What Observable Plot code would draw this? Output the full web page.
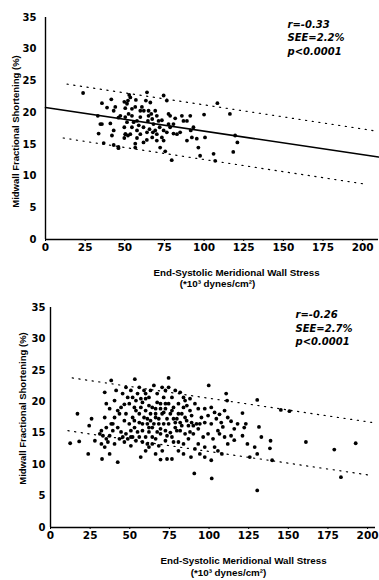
<!DOCTYPE html>
<html><head><meta charset="utf-8">
<script src="https://cdn.jsdelivr.net/npm/d3@7"></script>
<script src="https://cdn.jsdelivr.net/npm/@observablehq/plot@0.6"></script>
<style>
body{margin:0;background:#fff;}
#chart svg{display:block;}
</style></head><body><div id="chart"></div>
<script>
// ---- data ----
const xTicks = [0,25,50,75,100,125,150,175,200];
const yTicks = [0,5,10,15,20,25,30,35];
const xTitle = "End-Systolic Meridional Wall Stress";
const xUnits = "(*10³ dynes/cm²)";
const yTitle = "Midwall Fractional Shortening (%)";

const topStats = ["r=-0.33","SEE=2.2%","p<0.0001"];
const bottomStats = ["r=-0.26","SEE=2.7%","p<0.0001"];

// top panel: [stress, shortening]
const topPoints = [
[23.7,23.1],[35.6,21.5],[41.5,22.1],[38.8,20.8],[44,20.9],[43,20.3],[33,19.5],[34.6,18.2],[40.9,18.3],[33.5,16.7],
[43,17.2],[41.9,16.4],[35.6,18.2],[46,19.2],[47.2,19.5],[50.3,20.7],[51.4,21.4],[52,21.9],[53.5,22.4],[52.8,22.8],
[49.7,21.7],[57,22],[56.6,20.9],[50.3,19.3],[52.4,19.8],[51.4,18.5],[49.7,17.7],[50.5,16.6],[52,16.4],[53.5,16.6],
[49.7,16],[54.5,17.7],[55.6,18.5],[57.7,18.7],[58.8,18],[57.7,17.2],[59.8,19.3],[62,20.3],[60.8,20.9],[63.3,21.9],
[64,23.2],[66.1,21.6],[66.7,19.8],[65,19.5],[64.6,18.7],[67.3,19],[68.1,18.2],[65.6,17.4],[69.2,17.2],[70.2,16.6],
[67.3,16.1],[63.9,15.7],[61.8,15.3],[57.7,16],[56.6,15.1],[56.6,14.5],[46,14.6],[43,14.9],[46,14.4],[36.7,15.2],
[73.4,16.1],[74.5,17.2],[72,17.7],[71.3,18.7],[73.4,18.8],[74.5,22.7],[76.5,21.9],[77.6,19.8],[78.6,19.5],[77.6,18.2],
[78.6,17.7],[80.7,18.2],[80.7,16.7],[82.9,16.6],[84.9,16.9],[86,19.5],[87,18.7],[89.2,18.7],[91.3,19.5],[91.6,17.2],
[93.3,17.7],[89.2,15.6],[92.3,16.1],[95.4,15.9],[96.4,14.5],[97.5,13.2],[100.6,16.1],[100,19.7],[106,13.5],[107,12.4],
[108.4,21.5],[116.3,19.8],[118.4,13.8],[121,15.3],[119.6,16.4],[75.5,13.9],[79.6,12.5],[74.5,15.6],[70.2,15.6],[72.3,14.5],
[50.3,16.6],[54.5,20.6],[54.5,19.5],[59.8,20.3],[69.2,20.3],[61.8,17.7],[64,16.9],[59.8,16.6],[67.7,16.9],[65,20.3],
[70.2,19.5],[76.5,16.9],[81.8,19.1]
];
const topFitX = [0, 210];
const topFitY = [20.8, 13.0];
const topUpperX = [13.6, 208.6];
const topUpperY = [24.5, 17.1];
const topLowerX = [11.1, 202.3];
const topLowerY = [16.0, 8.7];

// bottom panel: [stress, shortening]
const bottomPoints = [
[12.4,13.4],[17,18.1],[18.1,13.7],[23.8,11.7],[24.4,16.2],[25.9,17.3],[32.5,10.9],[42.4,10.4],[38.3,23.4],[53.2,23.6],
[74.5,23.8],[99.8,22.6],[90.7,8.6],[101.7,7.8],[130.4,20.3],[130.4,5.9],[131.5,16],[133,14.4],[138.8,13.8],[138.4,12.6],
[139.8,10.7],[145.3,18.7],[150.7,18.5],[161.1,13.6],[179,12.4],[183.2,8],[192.5,13.4],[130.4,11.7],[128.8,12.8],[125.7,11.2],
[124.2,13.3],[121.1,14.6],[122.2,15.9],[123.2,16.5],[121.1,18.2],[118,16.5],[115.9,15.7],[113.9,14.6],[110.8,21.3],[111.4,20.2],
[109.8,18.6],[111.8,17.5],[107.7,16.7],[108.7,16],[106.6,14.9],[105.6,12.2],[108.1,11.7],[103.5,12.8],[101.4,10.7],[97.3,11.2],
[94.2,11.7],[91.1,12.5],[88.6,11.2],[83.9,11.7],[80.7,12.2],[76.6,10.9],[73.5,10.9],[69.4,10.8],[66.3,11.7],[70.5,12.2],
[60,12.2],[56.9,11.2],[50.7,13],[46.6,13.6],[43.5,14.1],[40.4,13.3],[37.3,11.7],[34.2,12.8],[35.2,14.1],[33.1,14.6],
[32.1,15.4],[35.2,15.9],[39.3,15.4],[39.3,16.5],[42.4,15.9],[34.2,17.5],[40.4,17.5],[35.2,19.7],[37.3,18.9],[34.2,21.5],
[40.4,20.2],[41.4,21.8],[45.5,21.3],[47.6,22.3],[50.7,21.8],[44.5,19.1],[47.6,18.1],[43.5,18.1],[46.6,17],[49.7,19.7],
[51.8,20.7],[53.9,20.2],[56,22.3],[59,21.8],[60,20.5],[62.1,19.4],[65.2,22.6],[67.3,21.3],[70.4,22.3],[72.5,21.8],
[71.4,20.7],[69.4,19.7],[66.3,18.9],[63.1,18.1],[60,18.6],[57,19.1],[53.9,18.6],[51.8,17.5],[49.7,16.5],[53,15.9],
[56,16.7],[58,15.4],[56,14.4],[53.9,13.8],[60,14.4],[62.1,15.2],[64.2,15.9],[63.1,17],[66.3,17.5],[68.3,16.5],
[70.4,18.1],[72.5,18.9],[74.5,19.7],[76.6,20.7],[78.7,21.8],[81.8,21.5],[84.9,20.2],[88,20.5],[83.9,19.1],[80.7,18.1],
[77.6,17.3],[74.5,16.5],[72.5,15.4],[69.4,14.9],[66.3,14.1],[64.2,13.3],[68.3,13],[72.5,13.8],[76.6,14.4],[79.7,15.4],
[82.8,16.2],[85.9,17],[89,17.8],[93.2,18.9],[95.2,17.5],[97.3,16.7],[99.4,17.8],[101.4,16.5],[104.6,17.3],[93.2,15.7],
[90.1,14.9],[87,14.1],[83.9,13.3],[80.7,13.6],[96.3,14.4],[99.4,14.9],[102.5,14.1],[105.6,15.4],[93.2,13.3],[97.3,12.8],
[91.1,19.7],[88,18.6],[84.9,17.5],[81.8,16.7],[78.7,15.9],[75.6,15.1],[73.5,17.3],[71.4,16.5],[69.4,15.7],[67.3,15.2],
[64.2,14.4],[61.1,16.5],[59,17.5],[56,18.1],[52.9,17],[50.7,15.4],[47.6,14.9],[44.5,15.2],[45.6,14.4],[48.7,14.1],
[51.8,14.4],[54.9,15.2],[58,16.5],[61.1,17.3],[64.2,19.1],[67.3,19.9],[62.1,20.7],[58,19.9],[54.9,21.3],[77.6,19.1],
[80.7,19.7],[83.9,20.7],[86,19.4],[89,16.7],[92.1,16.5],[97.3,18.9],[101.4,19.1],[103.5,18.3],[106.6,18],[109.8,14.4],
[113.9,16.9],[115.9,13.9],[111.8,13.3],[42.4,18.6],[38.3,16.5],[37.3,14.6],[36.2,13.6],[31.1,14.9],[28,13.8],[32.1,13.3],
[50.7,14.4],[48.7,20.7],[46.6,19.6],[52.9,19.1],[57,20.5],[60,21.3],[63.1,21.8],[74.5,22.3],[76.6,18.6],[79.7,17.3],
[82.8,18.1],[87,16.2],[90.1,16.2],[94.2,16.5],[62.1,15.9],[65.2,16.5],[68.3,17.3],[71.4,18.3],[66.3,18.1],[69.4,18.9],
[72.5,19.7],[75.6,18.1],[78.7,16.7],[81.8,15.4],[84.9,14.9],[88,15.2],[73.5,14.6],[77.6,13.6],[61.1,13.3],[58,13.6],
[62.1,12.8]
];
const bottomUpperX = [13.7, 203];
const bottomUpperY = [23.8, 16.7];
const bottomLowerX = [11, 202];
const bottomLowerY = [15.4, 8.3];

// ---- drawing ----
const bold = "'Liberation Sans', Arial, sans-serif";
const wide = "'DejaVu Sans', sans-serif";
function seg(xs, ys) { return xs.map((x, i) => ({x, y: ys[i]})); }

function panel(o) {
  const marks = [
    Plot.ruleX([0], {stroke: "black", strokeWidth: 1.4}),
    Plot.ruleY([0], {stroke: "black", strokeWidth: 1.4}),
    Plot.axisX({ticks: xTicks, tickSize: 2, tickPadding: 2, fontSize: 10.5, fontWeight: "bold", fontFamily: wide, label: null}),
    Plot.axisY({ticks: yTicks, tickSize: 0, tickPadding: o.yPad, fontSize: 10, fontWeight: "bold", fontFamily: wide, label: null}),
    Plot.line(seg(o.upX, o.upY), {x: "x", y: "y", stroke: "black", strokeWidth: 1.2, strokeDasharray: "1.2,5.5"}),
    Plot.line(seg(o.loX, o.loY), {x: "x", y: "y", stroke: "black", strokeWidth: 1.2, strokeDasharray: "1.2,5.5"}),
    Plot.dot(o.points, {x: d => d[0], y: d => d[1], r: 1.9, fill: "black", stroke: "none"}),
    Plot.text([o.stats.join("\n")], {frameAnchor: "top-right", textAnchor: "start", lineAnchor: "top", lineHeight: 1.33,
      dx: o.statDx, dy: o.statDy, fontSize: 10, fontWeight: "bold", fontStyle: "italic", fontFamily: wide, fill: "black"}),
    Plot.text([xTitle], {frameAnchor: "bottom", dx: o.t1dx, dy: o.t1dy, fontSize: 9.8, fontWeight: "bold", fontFamily: bold, fill: "black"}),
    Plot.text([xUnits], {frameAnchor: "bottom", dx: o.t2dx, dy: o.t2dy, fontSize: 9.8, fontWeight: "bold", fontFamily: bold, fill: "black"}),
    Plot.text([yTitle], {frameAnchor: "left", textAnchor: "middle", rotate: -90, dx: o.ydx, dy: o.ydy, fontSize: 9.5, fontWeight: "bold", fontFamily: bold, fill: "black"})
  ];
  if (o.fitX) marks.push(Plot.line(seg(o.fitX, o.fitY), {x: "x", y: "y", stroke: "black", strokeWidth: 1.6}));
  return Plot.plot({
    width: 379, height: 290,
    marginLeft: o.ml, marginRight: o.mr, marginTop: 17, marginBottom: o.mb,
    x: {domain: o.xDomain},
    y: {domain: [0, 35]},
    style: {background: "white", color: "black", overflow: "visible"},
    marks
  });
}

const chart = document.getElementById("chart");
chart.appendChild(panel({
  points: topPoints, fitX: topFitX, fitY: topFitY,
  upX: topUpperX, upY: topUpperY, loX: topLowerX, loY: topLowerY,
  stats: topStats, ml: 45, mr: 1, mb: 51, xDomain: [0, 210], yPad: 9,
  statDx: -91, statDy: 1, t1dx: 24.5, t1dy: 36, t2dx: 5.5, t2dy: 47, ydx: -30, ydy: 3
}));
chart.appendChild(panel({
  points: bottomPoints,
  upX: bottomUpperX, upY: bottomUpperY, loX: bottomLowerX, loY: bottomLowerY,
  stats: bottomStats, ml: 50, mr: 4, mb: 53, xDomain: [0, 205], yPad: 5,
  statDx: -80, statDy: 1.5, t1dx: 30.5, t1dy: 36, t2dx: 15.5, t2dy: 48, ydx: -28, ydy: -9
}));
</script>
</body></html>
